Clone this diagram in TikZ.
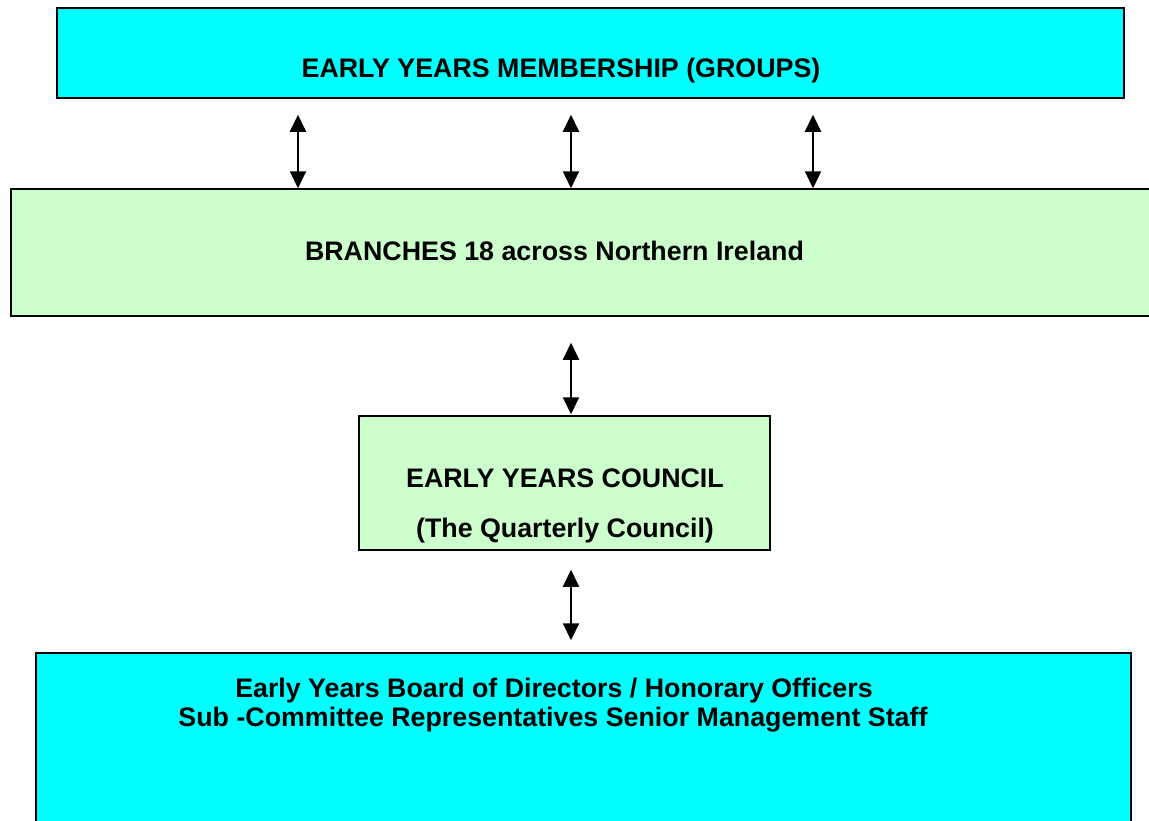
\documentclass[tikz,border=0pt]{standalone}
\usepackage{fontspec}
\setmainfont{Liberation Sans}
\usetikzlibrary{arrows.meta}
\definecolor{cyanbox}{HTML}{00FFFF}
\definecolor{greenbox}{HTML}{CCFFCC}
\begin{document}
\begin{tikzpicture}[x=1pt,y=-1pt,
  box/.style={draw=black, line width=1.5pt, rectangle, inner sep=0pt},
  lbl/.style={inner sep=0pt, anchor=base, font=\fontsize{26.8}{30}\selectfont\bfseries},
  dbl/.style={line width=2pt, {Triangle[length=17pt,width=16pt]}-{Triangle[length=17pt,width=16pt]}}
]
\useasboundingbox (0,0) rectangle (1149,820);
% boxes
\node[box, fill=cyanbox, minimum width=1067, minimum height=90] (mem) at (590.5,53) {};
\node[box, fill=greenbox, minimum width=1160, minimum height=127] (br) at (591,252.5) {};
\node[box, fill=greenbox, minimum width=411, minimum height=134] (cou) at (564.5,483) {};
\node[box, fill=cyanbox, minimum width=1095, minimum height=190] (bod) at (583.5,748) {};
% texts
\node[lbl] (t1) at (561,77) {EARLY YEARS MEMBERSHIP (GROUPS)};
\node[lbl] (t2) at (554.5,260) {BRANCHES 18 across Northern Ireland};
\node[lbl] (t3) at (565,487) {EARLY YEARS COUNCIL};
\node[lbl] (t4) at (565,537) {(The Quarterly Council)};
\node[lbl] (t5) at (554,697) {Early Years Board of Directors / Honorary Officers};
\node[lbl] (t6) at (553,726) {Sub -Committee Representatives Senior Management Staff};
% arrow columns
\coordinate (c1) at (298,0);
\coordinate (c2) at (571,0);
\coordinate (c3) at (813,0);
\draw[dbl, shorten <=16pt] (mem.south -| c1) -- (br.north -| c1);
\draw[dbl, shorten <=16pt] (mem.south -| c2) -- (br.north -| c2);
\draw[dbl, shorten <=16pt] (mem.south -| c3) -- (br.north -| c3);
\draw[dbl, shorten <=26pt, shorten >=1pt] (br.south -| c2) -- (cou.north -| c2);
\draw[dbl, shorten <=19pt, shorten >=12pt] (cou.south -| c2) -- (bod.north -| c2);
\end{tikzpicture}
\end{document}
